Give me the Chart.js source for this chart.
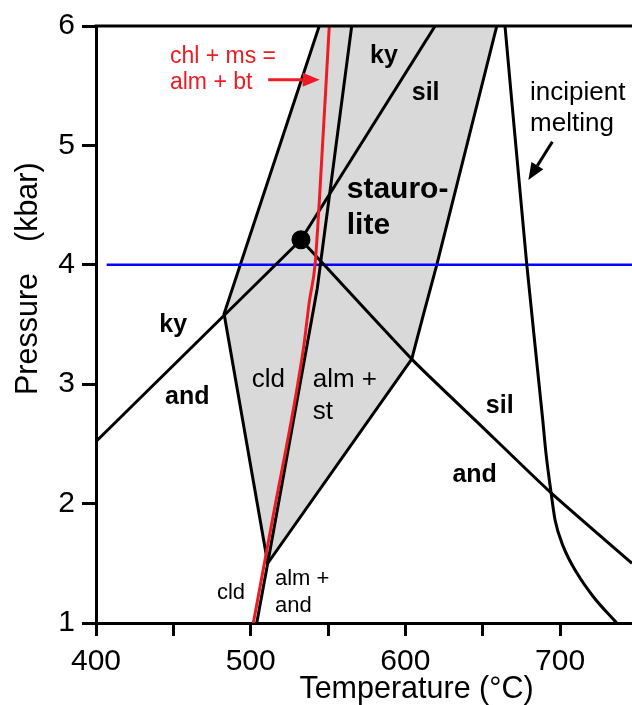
<!DOCTYPE html>
<html>
<head>
<meta charset="utf-8">
<script src="https://cdn.jsdelivr.net/npm/chart.js@4"></script>
<style>
  html, body { margin: 0; padding: 0; background: #fff; }
</style>
</head>
<body>
<canvas id="phaseChart" width="632" height="705"></canvas>
<script>
// tick labels
const tempTicks = [400, 500, 600, 700];
const pressTicks = [1, 2, 3, 4, 5, 6];

// staurolite + chloritoid field (grey), traced clockwise from top-left
const fieldT = [544.3, 482.8, 511, 604.1, 612, 620.3, 659.1];
const fieldP = [6, 3.59, 1.5, 3.21, 3.6, 4, 6];

// cld = alm + st  /  cld = alm + and
const cldT = [503.9, 511, 543, 565.3];
const cldP = [1, 1.5, 3.8, 6];

// chl + ms = alm + bt (red)
const chlT = [501.7, 514, 534, 538, 541.6, 544.4, 550.8];
const chlP = [1, 1.86, 3.29, 3.7, 4, 4.54, 6];

// Al2SiO5 lines
const kyAndT = [400, 532.5];
const kyAndP = [2.52, 4.21];
const kySilT = [532.5, 619.2];
const kySilP = [4.21, 6];
const silAndT = [532.5, 604.1, 648.3, 694.2, 746.5];
const silAndP = [4.21, 3.21, 2.66, 2.09, 1.5];
const tripleT = [532.5];
const tripleP = [4.21];

// incipient melting
const meltT = [664.4, 678.5, 688.8, 690.9, 694.2, 696.8, 702.1, 710.8, 721.5, 736.6];
const meltP = [6, 4, 2.7, 2.42, 2.09, 1.86, 1.64, 1.42, 1.22, 1];

// 4 kbar isobar
const isoT = [406.9, 746.5];
const isoP = [4, 4];

const pts = (t, p) => t.map((v, i) => ({ x: v, y: p[i] }));

const FONT = "'Liberation Sans', Arial, Helvetica, sans-serif";
const RED = '#ed1c24';

const notes = [
  { text: 'chl + ms =', t: 447.8, p: 5.69, size: 23, bold: false, color: RED },
  { text: 'alm + bt', t: 447.8, p: 5.47, size: 23, bold: false, color: RED },
  { text: 'ky', t: 577.2, p: 5.69, size: 25, bold: true },
  { text: 'sil', t: 604.1, p: 5.38, size: 25, bold: true },
  { text: 'stauro-', t: 562.1, p: 4.56, size: 30, bold: true },
  { text: 'lite', t: 562.1, p: 4.26, size: 30, bold: true },
  { text: 'incipient', t: 680.6, p: 5.38, size: 26, bold: false },
  { text: 'melting', t: 680.6, p: 5.12, size: 26, bold: false },
  { text: 'ky', t: 440.9, p: 3.44, size: 25, bold: true },
  { text: 'and', t: 444.6, p: 2.83, size: 25, bold: true },
  { text: 'cld', t: 500.7, p: 2.98, size: 26, bold: false },
  { text: 'alm +', t: 540.1, p: 2.98, size: 26, bold: false },
  { text: 'st', t: 540.1, p: 2.71, size: 26, bold: false },
  { text: 'sil', t: 652, p: 2.76, size: 25, bold: true },
  { text: 'and', t: 630.4, p: 2.18, size: 25, bold: true },
  { text: 'cld', t: 478.2, p: 1.2, size: 22, bold: false },
  { text: 'alm +', t: 515.7, p: 1.32, size: 22, bold: false },
  { text: 'and', t: 515.7, p: 1.095, size: 22, bold: false }
];

const arrows = [
  { from: [511.3, 5.55], to: [544.6, 5.55], color: RED },
  { from: [695, 5.03], to: [679.5, 4.71], color: '#000' }
];

const overlay = {
  id: 'overlay',
  afterDatasetsDraw(chart) {
    const { ctx, chartArea, scales: { x, y } } = chart;
    ctx.save();
    // top frame line
    ctx.strokeStyle = '#000';
    ctx.lineWidth = 3;
    ctx.beginPath();
    ctx.moveTo(chartArea.left - 1.5, chartArea.top);
    ctx.lineTo(chartArea.right, chartArea.top);
    ctx.stroke();

    // arrows
    arrows.forEach(a => {
      const x0 = x.getPixelForValue(a.from[0]), y0 = y.getPixelForValue(a.from[1]);
      const x1 = x.getPixelForValue(a.to[0]), y1 = y.getPixelForValue(a.to[1]);
      const ang = Math.atan2(y1 - y0, x1 - x0);
      const head = 17, half = 7;
      const bx = x1 - head * Math.cos(ang), by = y1 - head * Math.sin(ang);
      ctx.strokeStyle = a.color;
      ctx.fillStyle = a.color;
      ctx.lineWidth = 3;
      ctx.beginPath();
      ctx.moveTo(x0, y0);
      ctx.lineTo(bx, by);
      ctx.stroke();
      ctx.beginPath();
      ctx.moveTo(x1, y1);
      ctx.lineTo(bx + half * Math.sin(ang), by - half * Math.cos(ang));
      ctx.lineTo(bx - half * Math.sin(ang), by + half * Math.cos(ang));
      ctx.closePath();
      ctx.fill();
    });

    // field labels
    ctx.textAlign = 'left';
    ctx.textBaseline = 'alphabetic';
    notes.forEach(n => {
      ctx.font = (n.bold ? 'bold ' : '') + n.size + 'px ' + FONT;
      ctx.fillStyle = n.color || '#000';
      ctx.fillText(n.text, x.getPixelForValue(n.t), y.getPixelForValue(n.p));
    });

    // axis titles
    ctx.fillStyle = '#000';
    ctx.font = '30.5px ' + FONT;
    ctx.textAlign = 'center';
    ctx.fillText('Temperature (°C)', 416.5, 698);
    ctx.textAlign = 'left';
    ctx.translate(37, 395);
    ctx.rotate(-Math.PI / 2);
    ctx.fillText('Pressure', 0, 0);
    ctx.fillText('(kbar)', 153, 0);
    ctx.restore();
  }
};

const lineSet = (t, p, color, extra) => Object.assign({
  data: pts(t, p),
  showLine: true,
  borderColor: color,
  borderWidth: 3,
  pointRadius: 0,
  fill: false,
  tension: 0
}, extra || {});

Chart.defaults.font.family = FONT;
Chart.defaults.color = '#000';

new Chart(document.getElementById('phaseChart'), {
  type: 'scatter',
  data: {
    datasets: [
      lineSet(tripleT, tripleP, '#000', { showLine: false, pointRadius: 8, pointBackgroundColor: '#000', order: 0 }),
      lineSet(chlT, chlP, RED, { cubicInterpolationMode: 'monotone', order: 1 }),
      lineSet(cldT, cldP, '#000', { order: 2 }),
      lineSet(kyAndT, kyAndP, '#000', { order: 3 }),
      lineSet(kySilT, kySilP, '#000', { order: 3 }),
      lineSet(silAndT, silAndP, '#000', { tension: 0.2, order: 3 }),
      lineSet(meltT, meltP, '#000', { cubicInterpolationMode: 'monotone', order: 3 }),
      lineSet(isoT, isoP, '#0000ff', { borderWidth: 2.5, order: 4 }),
      lineSet(fieldT, fieldP, '#000', { fill: 'shape', backgroundColor: '#d9d9d9', order: 9 })
    ]
  },
  options: {
    responsive: false,
    animation: false,
    layout: { autoPadding: false, padding: { top: 26, left: 0, right: 0, bottom: 0 } },
    plugins: { legend: { display: false }, tooltip: { enabled: false } },
    scales: {
      x: {
        type: 'linear',
        min: 400,
        max: 746.5,
        afterFit: s => { s.height = 82; s.paddingLeft = 0; s.paddingRight = 0; },
        ticks: {
          stepSize: 50,
          includeBounds: false,
          maxRotation: 0,
          autoSkip: false,
          padding: 8,
          font: { size: 30 },
          callback: v => tempTicks.includes(v) ? String(v) : ''
        },
        grid: { display: true, drawOnChartArea: false, drawTicks: true, tickLength: 13, tickWidth: 3, tickColor: '#000' },
        border: { display: true, color: '#000', width: 3 }
      },
      y: {
        type: 'linear',
        min: 1,
        max: 6,
        afterFit: s => { s.width = 96; s.paddingTop = 0; s.paddingBottom = 0; },
        ticks: {
          stepSize: 1,
          padding: 7,
          font: { size: 30 },
          callback: v => pressTicks.includes(v) ? String(v) : ''
        },
        grid: { display: true, drawOnChartArea: false, drawTicks: true, tickLength: 14, tickWidth: 3, tickColor: '#000' },
        border: { display: true, color: '#000', width: 3 }
      }
    }
  },
  plugins: [overlay]
});
</script>
</body>
</html>
